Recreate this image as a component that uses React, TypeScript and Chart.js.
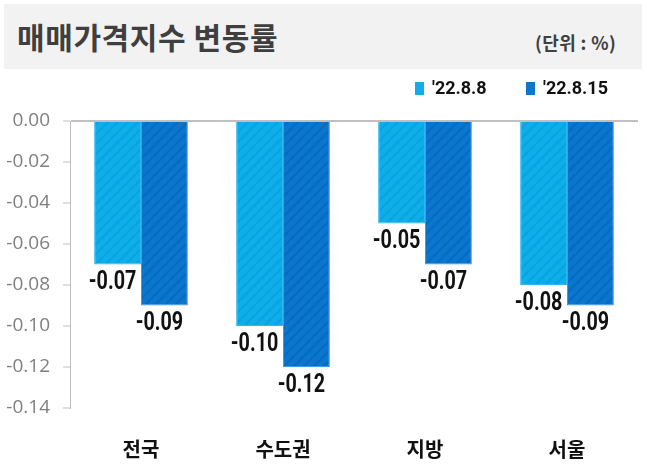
import React, { useEffect, useRef } from "react";
import { Chart, registerables } from "chart.js";

Chart.register(...registerables);

const categories = ["전국", "수도권", "지방", "서울"];
const seriesLabels = ["'22.8.8", "'22.8.15"];
const series0808 = [-0.07, -0.10, -0.05, -0.08];
const series0815 = [-0.09, -0.12, -0.07, -0.09];
const yTicks = [0, -0.02, -0.04, -0.06, -0.08, -0.10, -0.12, -0.14];

const LIGHT = "#0daeea";
const LIGHT_STRIPE = "#0ba3de";
const DARK = "#0a76ce";
const DARK_STRIPE = "#096bc0";

function makePattern(base: string, stripe: string) {
  const c = document.createElement("canvas");
  c.width = 10;
  c.height = 10;
  const g = c.getContext("2d")!;
  g.fillStyle = base;
  g.fillRect(0, 0, 10, 10);
  g.strokeStyle = stripe;
  g.lineWidth = 2;
  g.beginPath();
  g.moveTo(-1, 11);
  g.lineTo(11, -1);
  g.moveTo(-6, 6);
  g.lineTo(6, -6);
  g.moveTo(4, 16);
  g.lineTo(16, 4);
  g.stroke();
  return g.createPattern(c, "repeat") as CanvasPattern;
}

const valueLabelPlugin = {
  id: "valueLabels",
  afterDatasetsDraw(chart: any) {
    const ctx = chart.ctx;
    chart.data.datasets.forEach((ds: any, i: number) => {
      const meta = chart.getDatasetMeta(i);
      meta.data.forEach((el: any, j: number) => {
        const v = ds.data[j] as number;
        ctx.save();
        ctx.translate(el.x - 5, el.y + 18);
        ctx.scale(0.76, 1);
        ctx.font = "bold 26px Roboto";
        ctx.fillStyle = "#111111";
        ctx.textAlign = "center";
        ctx.textBaseline = "middle";
        ctx.fillText(v.toFixed(2), 0, 0);
        ctx.restore();
      });
    });
  },
};

const legendPlugin = {
  id: "customLegend",
  afterDraw(chart: any) {
    const ctx = chart.ctx;
    const xs = [415, 526];
    chart.data.datasets.forEach((ds: any, i: number) => {
      const x = xs[i];
      ctx.save();
      ctx.fillStyle = ds.legendColor;
      ctx.fillRect(x, 82, 9, 13);
      ctx.font = "bold 18px Roboto";
      ctx.fillStyle = "#111111";
      ctx.textAlign = "left";
      ctx.textBaseline = "middle";
      ctx.fillText(ds.label, x + 17, 89);
      ctx.restore();
    });
  },
};

export default function App() {
  const ref = useRef<HTMLCanvasElement>(null);

  useEffect(() => {
    const canvas = ref.current!;
    const chart = new Chart(canvas, {
      type: "bar",
      data: {
        labels: categories,
        datasets: [
          {
            label: seriesLabels[0],
            data: series0808,
            backgroundColor: makePattern(LIGHT, LIGHT_STRIPE),
            borderColor: "#2bb8ee",
            borderWidth: 1,
            legendColor: LIGHT,
          } as any,
          {
            label: seriesLabels[1],
            data: series0815,
            backgroundColor: makePattern(DARK, DARK_STRIPE),
            borderColor: "#3a9be6",
            borderWidth: 1,
            legendColor: DARK,
          } as any,
        ],
      },
      options: {
        animation: false,
        responsive: false,
        maintainAspectRatio: false,
        layout: { padding: { top: 121, left: 6, right: 9, bottom: 0 } },
        plugins: {
          legend: { display: false },
          tooltip: { enabled: false },
          title: { display: false },
        },
        datasets: {
          bar: { categoryPercentage: 0.66, barPercentage: 1 },
        },
        scales: {
          x: {
            grid: { display: false, drawTicks: false, tickLength: 0 },
            border: { display: false },
            afterFit(scale: any) {
              scale.height = 66;
            },
            ticks: {
              padding: 29,
              color: "#111111",
              font: { family: "'Noto Sans CJK KR'", size: 20, weight: "bold" },
            },
          },
          y: {
            min: yTicks[yTicks.length - 1],
            max: yTicks[0],
            z: 1,
            afterFit(scale: any) {
              scale.width = 64;
            },
            afterBuildTicks(scale: any) {
              scale.ticks = yTicks.map((v) => ({ value: v }));
            },
            grid: {
              drawOnChartArea: true,
              drawTicks: true,
              tickLength: 7,
              tickColor: "#bfbfbf",
              tickWidth: 1,
              color: (c: any) =>
                c.tick && Math.abs(c.tick.value) < 1e-9 ? "#c0c0c0" : "rgba(0,0,0,0)",
              lineWidth: (c: any) =>
                c.tick && Math.abs(c.tick.value) < 1e-9 ? 2 : 0,
            },
            border: { display: true, color: "#bfbfbf", width: 1 },
            ticks: {
              padding: 13,
              color: "#7f7f7f",
              font: { family: "'Open Sans'", size: 19 },
              callback: (v: any) =>
                Math.abs(Number(v)) < 1e-9 ? "0.00" : Number(v).toFixed(2),
            },
          },
        },
      } as any,
      plugins: [valueLabelPlugin, legendPlugin],
    });
    return () => chart.destroy();
  }, []);

  return (
    <div
      style={{
        position: "fixed",
        left: 0,
        top: 0,
        width: 647,
        height: 474,
        background: "#ffffff",
        overflow: "hidden",
      }}
    >
      <div
        style={{
          position: "absolute",
          left: 4,
          top: 4,
          width: 638,
          height: 65,
          background: "#f2f2f2",
        }}
      />
      <div
        style={{
          position: "absolute",
          left: 17,
          top: 16,
          fontFamily: "'Noto Sans CJK KR'",
          fontWeight: "bold",
          fontSize: 30,
          letterSpacing: "0.6px",
          lineHeight: "40px",
          color: "#3f3f3f",
          whiteSpace: "nowrap",
        }}
      >
        매매가격지수 변동률
      </div>
      <div
        style={{
          position: "absolute",
          left: 535,
          top: 29,
          fontFamily: "'Noto Sans CJK KR'",
          fontWeight: "bold",
          fontSize: 18,
          letterSpacing: "0.4px",
          lineHeight: "26px",
          color: "#3f3f3f",
          whiteSpace: "nowrap",
        }}
      >
        (단위 : %)
      </div>
      <canvas
        ref={ref}
        width={647}
        height={474}
        style={{ position: "absolute", left: 0, top: 0, width: 647, height: 474 }}
      />
    </div>
  );
}
